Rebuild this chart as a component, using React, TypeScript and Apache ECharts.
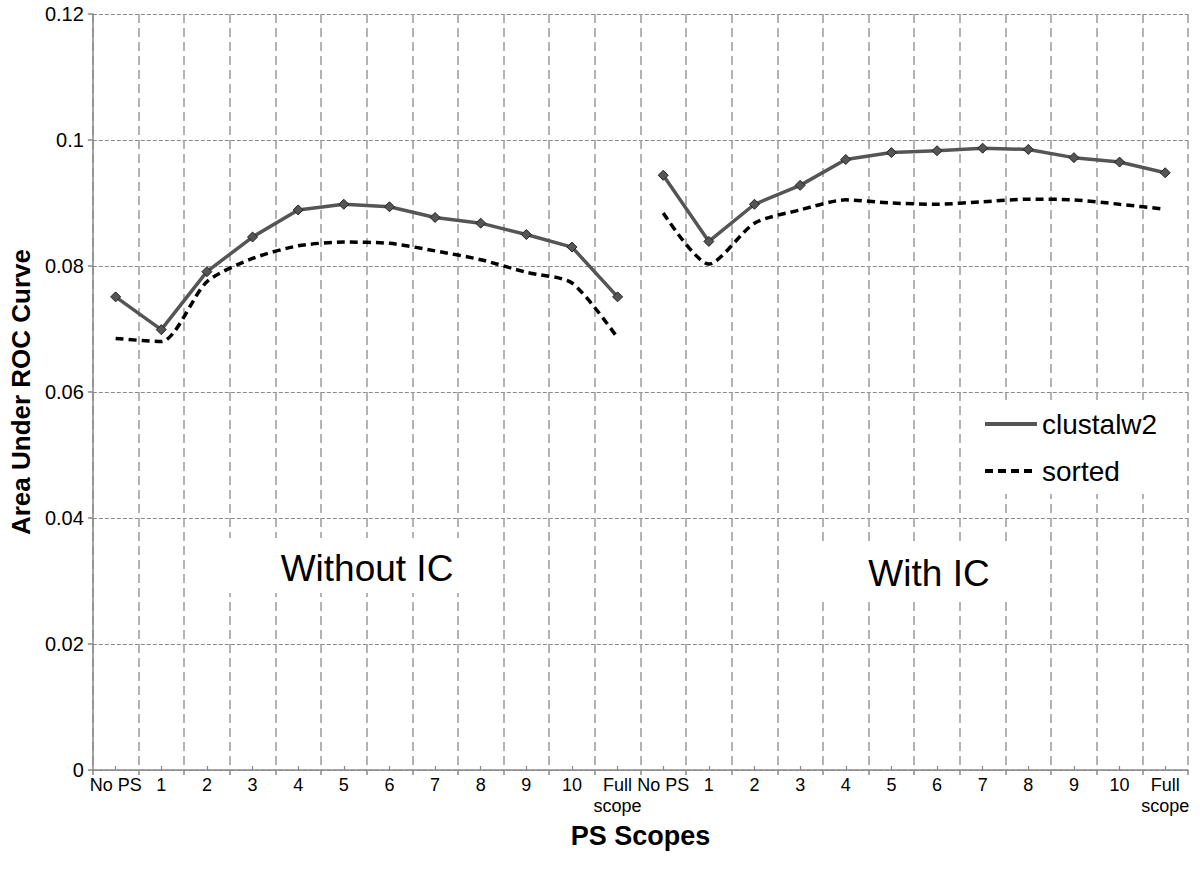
import React, { useEffect, useRef } from "react";
import * as echarts from "echarts";

const scopeLabels = ["No PS", "1", "2", "3", "4", "5", "6", "7", "8", "9", "10", "Full\nscope"];
const categories = [...scopeLabels, ...scopeLabels];

const clustalWithoutIC = [0.0751, 0.0699, 0.0791, 0.0846, 0.0889, 0.0898, 0.0894, 0.0877, 0.0868, 0.085, 0.083, 0.0751];
const sortedWithoutIC = [0.0685, 0.068, 0.0775, 0.0812, 0.0832, 0.0838, 0.0836, 0.0824, 0.081, 0.079, 0.0773, 0.0686];
const clustalWithIC = [0.0944, 0.0839, 0.0898, 0.0928, 0.0969, 0.098, 0.0983, 0.0987, 0.0985, 0.0972, 0.0965, 0.0948];
const sortedWithIC = [0.0884, 0.0803, 0.0868, 0.0889, 0.0905, 0.09, 0.0898, 0.0902, 0.0906, 0.0905, 0.0898, 0.089];

const yTicks = { min: 0, max: 0.12, interval: 0.02 };

const FONT = "'Liberation Sans', Arial, Helvetica, sans-serif";

export default function App() {
  const ref = useRef<HTMLDivElement>(null);

  useEffect(() => {
    if (!ref.current) return;
    const chart = echarts.init(ref.current, null, { renderer: "svg" });
    const pad = (n: number) => new Array(n).fill(null);

    const clustalLine = { color: "#555555", width: 3.5 };
    const sortedLine = { color: "#000000", width: 3.5, type: [8, 5] as number[] };

    const clustalStyle = {
      type: "line" as const,
      name: "clustalw2",
      symbol: "diamond",
      symbolSize: 10,
      lineStyle: clustalLine,
      itemStyle: { color: "#555555", borderColor: "#222222", borderWidth: 1 },
      z: 3,
    };
    const sortedStyle = {
      type: "line" as const,
      name: "sorted",
      symbol: "none",
      smooth: 0.25,
      lineStyle: sortedLine,
      itemStyle: { color: "#000000" },
      z: 2,
    };

    chart.setOption({
      animation: false,
      backgroundColor: "#ffffff",
      textStyle: { fontFamily: FONT },
      grid: { left: 89, right: 12, top: 14, bottom: 100, containLabel: false },
      legend: {
        orient: "vertical",
        left: 975,
        top: 400,
        padding: [10, 12, 9, 8],
        backgroundColor: "#ffffff",
        itemWidth: 52,
        itemHeight: 14,
        itemGap: 19,
        textStyle: { fontSize: 28, color: "#000", fontFamily: FONT },
        data: [
          { name: "clustalw2", itemStyle: { opacity: 0 }, lineStyle: { ...clustalLine, width: 4 } },
          { name: "sorted", itemStyle: { opacity: 0 }, lineStyle: { ...sortedLine, width: 4 } },
        ],
      },
      xAxis: [
        {
          type: "category",
          data: categories,
          boundaryGap: true,
          name: "PS Scopes",
          nameLocation: "middle",
          nameGap: 52,
          nameMoveOverlap: false,
          nameTextStyle: { fontSize: 27, fontWeight: "bold", color: "#000", fontFamily: FONT },
          axisLine: { show: true, lineStyle: { color: "#888888", width: 1.5 } },
          axisTick: { show: true, alignWithLabel: false, length: 5, interval: 0, lineStyle: { color: "#888888", width: 1.5 } },
          axisLabel: { interval: 0, fontSize: 18, color: "#000", margin: 4, lineHeight: 21, fontFamily: FONT },
          splitLine: { show: true, interval: 0, lineStyle: { color: "#9a9a9a", width: 1.5, type: [9, 5] } },
        },
        {
          type: "category",
          data: categories,
          boundaryGap: true,
          position: "bottom",
          axisLine: { show: false },
          axisTick: { show: true, alignWithLabel: true, inside: true, length: 4, interval: 0, lineStyle: { color: "#888888", width: 1.2 } },
          axisLabel: { show: false },
          splitLine: { show: false },
        },
      ],
      yAxis: {
        type: "value",
        min: yTicks.min,
        max: yTicks.max,
        interval: yTicks.interval,
        name: "Area Under ROC Curve",
        nameLocation: "middle",
        nameGap: 58,
        nameTextStyle: { fontSize: 26, fontWeight: "bold", color: "#000", fontFamily: FONT },
        axisLine: { show: true, lineStyle: { color: "#888888", width: 1.5 } },
        axisTick: { show: true, length: 5, lineStyle: { color: "#888888", width: 1.5 } },
        axisLabel: { fontSize: 20, color: "#000", margin: 9, fontFamily: FONT },
        splitLine: { show: true, lineStyle: { color: "#8a8a8a", width: 1, type: [4, 2] } },
      },
      graphic: [
        { type: "rect", shape: { x: 212, y: 538, width: 268, height: 55 }, style: { fill: "#ffffff" }, z: 1 },
        {
          type: "text",
          x: 367,
          y: 568,
          style: { text: "Without IC", fontSize: 37, fontFamily: FONT, fill: "#000", align: "center", verticalAlign: "middle" },
          z: 2,
        },
        { type: "rect", shape: { x: 800, y: 542, width: 230, height: 60 }, style: { fill: "#ffffff" }, z: 1 },
        {
          type: "text",
          x: 929,
          y: 573,
          style: { text: "With IC", fontSize: 37, fontFamily: FONT, fill: "#000", align: "center", verticalAlign: "middle" },
          z: 2,
        },
      ],
      series: [
        { ...clustalStyle, data: [...clustalWithoutIC, ...pad(clustalWithIC.length)] },
        { ...clustalStyle, data: [...pad(clustalWithoutIC.length), ...clustalWithIC] },
        { ...sortedStyle, data: [...sortedWithoutIC, ...pad(sortedWithIC.length)] },
        { ...sortedStyle, data: [...pad(sortedWithoutIC.length), ...sortedWithIC] },
      ],
    });

    return () => chart.dispose();
  }, []);

  return (
    <div
      ref={ref}
      style={{ position: "fixed", left: 0, top: 0, width: 1200, height: 870, background: "#fff" }}
    />
  );
}
